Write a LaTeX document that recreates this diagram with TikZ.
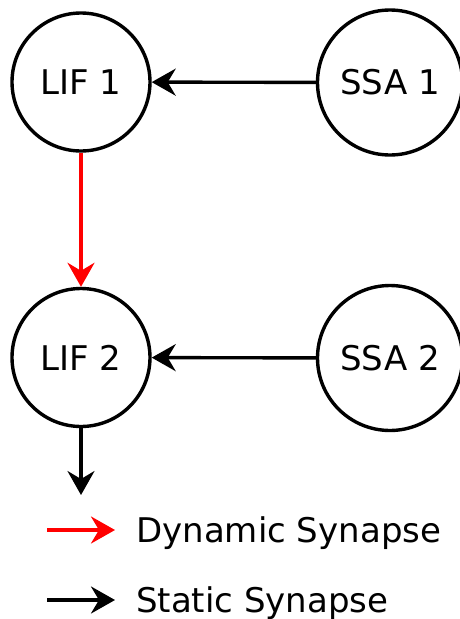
\documentclass[tikz,border=0pt]{standalone}
\usepackage{fontspec}
\setmainfont{DejaVu Sans}
\usetikzlibrary{arrows.meta}
\begin{document}
\begin{tikzpicture}[x=1pt,y=-1pt,
  every node/.style={font=\fontsize{34}{41}\selectfont},
  neuron/.style={circle,draw,line width=3.4pt,inner sep=0pt,minimum size=138pt},
  source/.style={circle,draw,line width=3.4pt,inner sep=0pt,minimum size=145pt},
  synapse/.style={line width=3.4pt,-{Stealth[length=24pt,width=27pt,inset=8pt]}},
  dynamic/.style={synapse,red},
  static/.style={synapse,black}]
\useasboundingbox (0,0) rectangle (460,619);
\node[neuron] (lif1) at (81,82) {LIF 1};
\node[source] (ssa1) at (390,82.5) {SSA 1};
\node[neuron] (lif2) at (81,357.5) {LIF 2};
\node[source] (ssa2) at (390,358) {SSA 2};
\coordinate (out) at (81,495);
\draw[static] (ssa1) -- (lif1);
\draw[static] (ssa2) -- (lif2);
\draw[dynamic] (lif1) -- (lif2);
\draw[static] (lif2) -- (out);
% legend
\coordinate (d0) at (47,530);
\coordinate (d1) at (115,530);
\coordinate (s0) at (47,600);
\coordinate (s1) at (115,600);
\draw[dynamic] (d0) -- (d1);
\draw[static] (s0) -- (s1);
\node[anchor=base west,inner sep=0pt] (dlab) at (136,542) {Dynamic Synapse};
\node[anchor=base west,inner sep=0pt] (slab) at (136,612) {Static Synapse};
\end{tikzpicture}
\end{document}
